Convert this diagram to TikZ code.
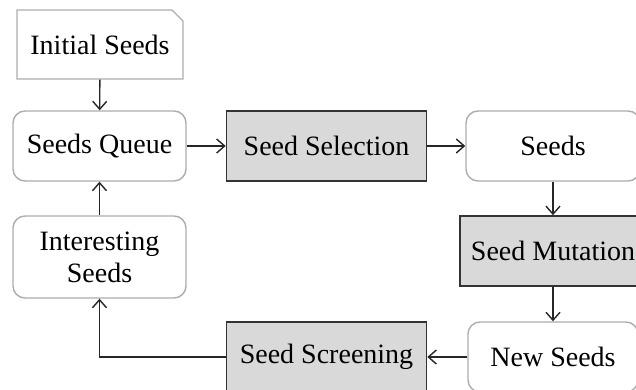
\documentclass[tikz,border=0pt]{standalone}
\usepackage{fontspec}
\setmainfont{Liberation Serif}
\usetikzlibrary{arrows.meta,shapes.misc}
\begin{document}
\begin{tikzpicture}[x=0.5pt,y=-0.5pt,
  every node/.style={font=\fontsize{14pt}{16pt}\selectfont, align=center, inner sep=0pt},
  databox/.style={draw=black!32, line width=0.7pt, rounded corners=6pt, fill=white},
  procbox/.style={draw=black!80, line width=0.8pt, fill=black!15},
  flow/.style={draw=black!85, line width=0.7pt, -{Straight Barb[length=4pt,width=7pt]}}
]
\useasboundingbox (0,0) rectangle (636,390);
\clip (0,0) rectangle (636,390);

% storage and seed sets
\node[draw=black!32, line width=0.7pt, fill=white, chamfered rectangle,
      chamfered rectangle corners=north east, chamfered rectangle xsep=3pt,
      chamfered rectangle ysep=2.5pt,
      minimum width=83pt, minimum height=34.5pt] (init) at (100,44.5) {Initial Seeds};
\node[databox, minimum width=86.5pt, minimum height=35pt] (queue) at (99.5,146) {Seeds Queue};
\node[databox, minimum width=86.5pt, minimum height=41pt] (interesting) at (99.5,257) {Interesting\\Seeds};
\node[databox, minimum width=87pt, minimum height=35pt] (seeds) at (553,146) {Seeds};
\node[databox, minimum width=85pt, minimum height=35pt] (newseeds) at (553,357) {New Seeds};

% processing steps
\node[procbox, minimum width=100pt, minimum height=35pt] (select) at (326.5,146) {Seed Selection};
\node[procbox, minimum width=93pt, minimum height=35pt] (mutate) at (553,251) {Seed Mutation};
\node[procbox, minimum width=100pt, minimum height=35pt] (screen) at (326.5,357) {Seed Screening};

% data flow
\draw[flow] (init) -- (queue);
\draw[flow] (queue) -- (select);
\draw[flow] (select) -- (seeds);
\draw[flow] (seeds) -- (mutate);
\draw[flow] (mutate) -- (newseeds);
\draw[flow] (newseeds) -- (screen);
\draw[flow] (screen.west) -| (interesting.south);
\draw[flow] (interesting) -- (queue);
\end{tikzpicture}
\end{document}
